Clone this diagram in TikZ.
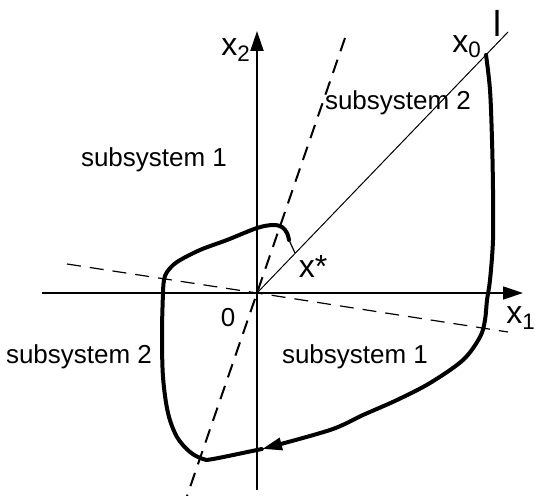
\documentclass[tikz,border=0pt]{standalone}
\usepackage{fontspec}
\setmainfont{Liberation Sans}
\usepackage{tikz}
\usetikzlibrary{positioning,arrows.meta}

\begin{document}
\begin{tikzpicture}[
  x=0.5pt, y=-0.5pt,
  axis/.style={-{Triangle[length=10pt, width=6.5pt]}},
  sepline/.style={dash pattern=on 7pt off 4.5pt},
  traj/.style={line width=2pt, line join=round, line cap=round},
  lbl/.style={font=\fontsize{13}{15}\selectfont, inner sep=0pt},
  var/.style={font=\fontsize{16}{18}\selectfont, inner sep=0pt}
]
\useasboundingbox (0,0) rectangle (535,496);

% axes
\coordinate (O) at (257,293);
\coordinate (x1end) at (523,293);
\coordinate (x2end) at (257,31);
\draw[axis, line width=0.7pt] (42,293) -- (x1end);
\draw[axis, line width=1pt] (257,490) -- (x2end);

% switching lines
\draw[sepline, line width=0.6pt] (67,264) -- (O) -- (508,332);
\draw[sepline, line width=1pt] (345,38) -- (O) -- (187,496);

% line l
\coordinate (lend) at (508,32);
\draw[line width=0.5pt] (O) -- (lend);

% trajectory
\coordinate (x0) at (486,55);
\coordinate (xs) at (295,253);
\draw[traj, -{Triangle[length=10pt, width=6pt]}] plot[smooth, tension=0.55] coordinates {
  (x0) (490,90) (492,140) (493,190) (493,240) (490,280) (487,300)
  (485,320) (480,337) (463,360) (430,383) (397,400) (363,415) (330,430) (262,449)};
\draw[traj] plot[smooth, tension=0.55] coordinates {
  (262,449) (257,450) (213,459) (203,459) (190,452) (177,437) (168,413)
  (163,377) (162,333) (163,293) (164,280) (167,272) (177,262) (200,250)
  (227,240) (257,228) (273,225) (282,227) (287,233) (289,240)};
\draw[line width=0.6pt] (289,240) -- (xs);

% labels
\node[var] (x2lbl) at (236,50) {x\textsubscript{2}};
\node[var] (x1lbl) at (521,318) {x\textsubscript{1}};
\node[var] (x0lbl) at (467,47) {x\textsubscript{0}};
\node[var] (xslbl) at (313,266) {x*};
\node[lbl] (zero) at (228,318) {0};
\node[inner sep=0pt, font=\fontsize{18}{20}\selectfont] (llbl) at (497,23) {l};
\node[lbl] (sub1a) at (154,160) {subsystem 1};
\node[lbl] (sub2a) at (398,103) {subsystem 2};
\node[lbl] (sub2b) at (79,357) {subsystem 2};
\node[lbl] (sub1b) at (355,357) {subsystem 1};
\end{tikzpicture}
\end{document}
